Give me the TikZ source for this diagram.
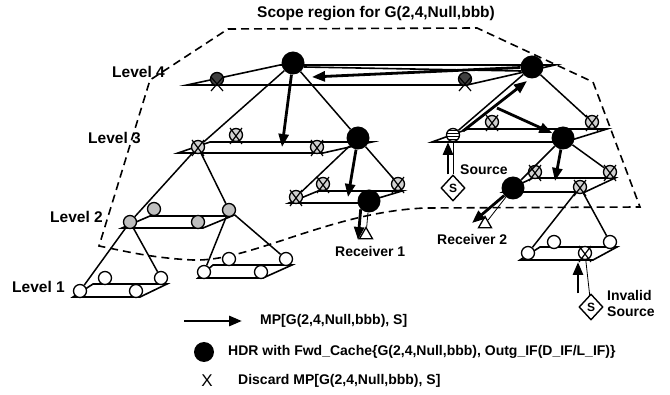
\documentclass[tikz,border=0pt]{standalone}
\usepackage{fontspec}
\setmainfont{Liberation Sans}
\usetikzlibrary{arrows.meta,shapes.geometric,patterns}

% cross drawn over a node (regular and low-set variants)
\newcommand\xmk[1]{\draw[xline] (#1) ++(-6,-7) -- ++(12,16) (#1) ++(6,-7) -- ++(-12,16);}
\newcommand\xlow[1]{\draw[xline] (#1) ++(-6,-2) -- ++(12,14) (#1) ++(6,-2) -- ++(-12,14);}

\begin{document}
\begin{tikzpicture}[x=1pt,y=-1pt,
  planeline/.style={line width=1.6pt, line join=miter},
  treeline/.style={line width=1.5pt},
  thinline/.style={line width=0.8pt},
  xline/.style={line width=1.2pt},
  mp/.style={line width=2.8pt, -{Triangle[length=13pt,width=10pt]}},
  nd/.style={circle, draw, line width=1.3pt, fill=white, minimum size=13pt, inner sep=0pt},
  gnd/.style={nd, fill=black!25},
  xnd/.style={nd, fill=black!18},
  dnd/.style={nd, fill=black!75},
  bnd/.style={circle, fill=black, minimum size=23pt, inner sep=0pt},
  srcnd/.style={circle, draw, line width=1.3pt, minimum size=13pt, inner sep=0pt,
                preaction={fill=white}, pattern=horizontal lines},
  sdiam/.style={diamond, draw, line width=1.4pt, fill=white, minimum width=24pt,
                minimum height=26pt, inner sep=0pt, font=\bfseries\fontsize{12}{12}\selectfont},
  rcv/.style={regular polygon, regular polygon sides=3, draw, line width=1.3pt,
              fill=white, minimum size=15pt, inner sep=0pt},
  scope/.style={dash pattern=on 8pt off 5pt, line width=1.6pt},
  lbl/.style={font=\bfseries\fontsize{14}{16}\selectfont, inner sep=0pt},
  lvl/.style={font=\bfseries\fontsize{15.5}{17}\selectfont, inner sep=0pt, anchor=west}]

\useasboundingbox (0,0) rectangle (670,395);

% scope region
\draw[scope] (228,29) -- (477,28) -- (593,82) -- (640,207) -- (425,208)
  .. controls (330,212) and (250,262) .. (193,260)
  .. controls (150,258) and (120,250) .. (99,246) -- (150,80) -- cycle;
\node[font=\bfseries\fontsize{15.5}{17}\selectfont, inner sep=0pt] (title) at (376,14) {Scope region for G(2,4,Null,bbb)};

% level labels
\node[lvl] (lv4) at (112,72) {Level 4};
\node[lvl] (lv3) at (88,138) {Level 3};
\node[lvl] (lv2) at (50,217) {Level 2};
\node[lvl] (lv1) at (12,287) {Level 1};

% planes
\draw[planeline] (187,85) -- (467,85) -- (555,65) -- (280,65) -- cycle;
\draw[planeline] (178,153) -- (323,153) -- (372,142) -- (210,142) -- cycle;
\draw[planeline] (432,142) -- (565,142) -- (607,129) -- (468,129) -- cycle;
\draw[planeline] (122,228) -- (203,228) -- (232,216) -- (150,216) -- cycle;
\draw[planeline] (289,203) -- (362,203) -- (402,191) -- (318,191) -- cycle;
\draw[planeline] (503,192) -- (585,192) -- (615,178) -- (533,178) -- cycle;
\draw[planeline] (73,297) -- (140,297) -- (167,284) -- (93,284) -- cycle;
\draw[planeline] (198,278) -- (263,278) -- (292,265) -- (213,265) -- cycle;
\draw[planeline] (520,260) -- (593,260) -- (617,247) -- (540,247) -- cycle;

% node coordinates
\coordinate (c4a) at (217,79);  \coordinate (c4b) at (293,63);
\coordinate (c4c) at (465,79);  \coordinate (c4d) at (532,67);
\coordinate (c3la) at (198,147); \coordinate (c3lb) at (236,135);
\coordinate (c3lc) at (317,147); \coordinate (c3ld) at (358,138);
\coordinate (c3ra) at (453,135); \coordinate (c3rb) at (492,122);
\coordinate (c3rc) at (563,138); \coordinate (c3rd) at (592,122);
\coordinate (c2la) at (130,222); \coordinate (c2lb) at (154,209);
\coordinate (c2lc) at (198,222); \coordinate (c2ld) at (229,210);
\coordinate (c2ma) at (296,197); \coordinate (c2mb) at (323,184);
\coordinate (c2mc) at (369,201); \coordinate (c2md) at (398,184);
\coordinate (c2ra) at (513,188); \coordinate (c2rb) at (535,172);
\coordinate (c2rc) at (580,187); \coordinate (c2rd) at (610,172);

% level 4
\node[dnd] (p4a) at (c4a) {}; \node[bnd] (p4b) at (c4b) {};
\node[dnd] (p4c) at (c4c) {}; \node[bnd] (p4d) at (c4d) {};
% level 3
\node[xnd] (p3la) at (c3la) {}; \node[xnd] (p3lb) at (c3lb) {};
\node[xnd] (p3lc) at (c3lc) {}; \node[bnd] (p3ld) at (c3ld) {};
\node[srcnd] (p3ra) at (c3ra) {}; \node[xnd] (p3rb) at (c3rb) {};
\node[bnd] (p3rc) at (c3rc) {}; \node[xnd] (p3rd) at (c3rd) {};
% level 2
\node[gnd] (p2la) at (c2la) {}; \node[gnd] (p2lb) at (c2lb) {};
\node[gnd] (p2lc) at (c2lc) {}; \node[gnd] (p2ld) at (c2ld) {};
\node[xnd] (p2ma) at (c2ma) {}; \node[xnd] (p2mb) at (c2mb) {};
\node[bnd] (p2mc) at (c2mc) {}; \node[xnd] (p2md) at (c2md) {};
\node[bnd] (p2ra) at (c2ra) {}; \node[xnd] (p2rb) at (c2rb) {};
\node[xnd] (p2rc) at (c2rc) {}; \node[xnd] (p2rd) at (c2rd) {};
% level 1
\node[nd] (p1la) at (80,291) {};  \node[nd] (p1lb) at (105,278) {};
\node[nd] (p1lc) at (136,291) {}; \node[nd] (p1ld) at (161,278) {};
\node[nd] (p1ma) at (204,272) {}; \node[nd] (p1mb) at (229,259) {};
\node[nd] (p1mc) at (261,272) {}; \node[nd] (p1md) at (286,259) {};
\node[nd] (p1ra) at (528,253) {}; \node[nd] (p1rb) at (554,242) {};
\node[nd] (p1rc) at (585,253) {}; \node[nd] (p1rd) at (610,242) {};

% ring line along the top of level 4
\draw[planeline] (p4b.-20) -- (p4d.200);

% tree links
\draw[treeline] (p4b) -- (p3la) (p4b) -- (p3ld) (p4d) -- (p3ra) (p4d) -- (p3rd);
\draw[treeline] (p3la) -- (p2la) (p3la) -- (p2ld) (p3ld) -- (p2ma) (p3ld) -- (p2md)
                (p3rc) -- (p2ra) (p3rc) -- (p2rd);
\draw[treeline] (p2la) -- (p1la) (p2la) -- (p1ld) (p2ld) -- (p1ma) (p2ld) -- (p1md)
                (p2rc) -- (p1ra) (p2rc) -- (p1rd);

% discard marks
\xlow{p4a} \xlow{p4c}
\xmk{p3la} \xmk{p3lb} \xmk{p3lc} \xmk{p3rb} \xmk{p3rd}
\xmk{p2ma} \xmk{p2mb} \xmk{p2md} \xmk{p2rb} \xmk{p2rc} \xmk{p2rd}
\xmk{p1rc}

% source, receivers
\node[sdiam] (sdia) at (453,188) {S};
\node[sdiam] (idia) at (591,307) {S};
\node[rcv] (rcv1) at (366,235) {};
\node[rcv] (rcv2) at (485,224) {};
\draw[thinline] (p3ra) -- (sdia);
\draw[thinline] (p1rc) -- (idia);
\draw[thinline] (p2mc) -- (rcv1);
\draw[thinline] (p2ra) -- (rcv2);

\node[lbl, anchor=west] (srcl) at (460,170) {Source};
\node[lbl, anchor=west] (r1l) at (335,251) {Receiver 1};
\node[lbl, anchor=west] (r2l) at (437,239) {Receiver 2};
\node[lbl, anchor=west] (invl) at (607,295) {Invalid};
\node[lbl, anchor=west] (invs) at (607,312) {Source};

% packet flow
\coordinate (t1) at (312,77);
\coordinate (t2) at (282,147);
\coordinate (t3) at (348,197);
\coordinate (t4) at (358,240);
\coordinate (t5) at (448,142);
\coordinate (a6s) at (463,131); \coordinate (a6t) at (527,81);
\coordinate (a7s) at (497,108);
\coordinate (t8) at (555,181);
\coordinate (t9) at (472,223);
\coordinate (t10) at (578,262);
\draw[mp] (p4d) -- (t1);
\draw[mp] (p4b) -- (t2);
\draw[mp] (p3ld) -- (t3);
\draw[mp] (p2mc.225) -- (t4);
\draw[mp] (sdia.north -| t5) -- (t5);
\draw[mp] (a6s) -- (a6t);
\draw[mp] (a7s) -- (p3rc);
\draw[mp] (p3rc) -- (t8);
\draw[mp] (p2ra) -- (t9);
\draw[mp] (idia.north -| t10) -- (t10);

% legend
\coordinate (lgs) at (184,321); \coordinate (lgt) at (242,321);
\draw[mp] (lgs) -- (lgt);
\node[lbl, anchor=west] (lg1) at (260,321) {MP[G(2,4,Null,bbb), S]};
\node[bnd, minimum size=20pt] (lgc) at (204,352) {};
\node[lbl, anchor=west] (lg2) at (228,352) {HDR with Fwd\_Cache\{G(2,4,Null,bbb), Outg\_IF(D\_IF/L\_IF)\}};
\node[font=\fontsize{17}{17}\selectfont, inner sep=0pt] (lgx) at (207,381) {X};
\node[lbl, anchor=west] (lg3) at (238,381) {Discard MP[G(2,4,Null,bbb), S]};
\end{tikzpicture}
\end{document}
